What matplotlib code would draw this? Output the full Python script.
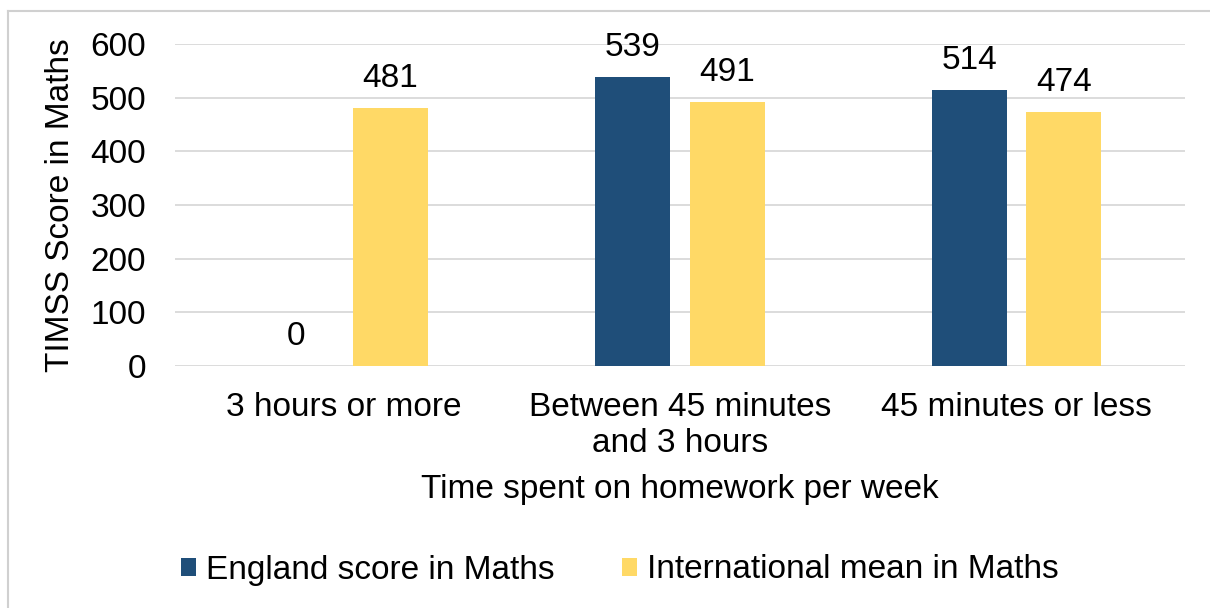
import matplotlib
matplotlib.use("Agg")
import matplotlib.pyplot as plt
import numpy as np
from matplotlib.lines import Line2D

categories = ["3 hours or more", "Between 45 minutes\nand 3 hours", "45 minutes or less"]
england = [0, 539, 514]
international = [481, 491, 474]
series_names = ["England score in Maths", "International mean in Maths"]
colors = ["#1F4E79", "#FFD966"]
yticks = [0, 100, 200, 300, 400, 500, 600]

plt.rcParams['font.family'] = ['Liberation Sans', 'DejaVu Sans']
FS = 24

fig = plt.figure(figsize=(12.10, 6.08), dpi=100)
ax = fig.add_axes([175/1210, 1-366/608, (1185-175)/1210, (366-44)/608])

x = np.arange(len(categories))
w = 0.223
off = 0.14
b1 = ax.bar(x - off, england, w, color=colors[0], label=series_names[0], zorder=3)
b2 = ax.bar(x + off, international, w, color=colors[1], label=series_names[1], zorder=3)
for bars in (b1, b2):
    for r in bars:
        ax.annotate(f"{int(r.get_height())}", (r.get_x() + r.get_width()/2, r.get_height()),
                    xytext=(0, 14), textcoords="offset pixels", ha="center", va="bottom",
                    fontsize=FS, color="#000000")

ax.set_xlim(-0.5, 2.5)
ax.set_ylim(0, 600)
ax.set_yticks(yticks)
ax.set_xticks(x)
ax.set_xticklabels(categories, fontsize=FS, linespacing=1.2)
ax.tick_params(axis='both', length=0, labelsize=FS, colors="#000000")
ax.tick_params(axis='y', pad=21)
ax.tick_params(axis='x', pad=19)
for s in ax.spines.values():
    s.set_visible(False)
ax.grid(axis='y', color="#D9D9D9", linewidth=1.3, zorder=0)
ax.set_axisbelow(True)
ax.set_xlabel("Time spent on homework per week", fontsize=FS, labelpad=11)
ax.set_ylabel("TIMSS Score in Maths", fontsize=FS, labelpad=10)

fig.legend(handles=[b1, b2], labels=series_names, loc="center", bbox_to_anchor=(620/1210, 1-570/608),
           ncol=2, frameon=False, fontsize=FS, handlelength=0.45, handleheight=0.45,
           handletextpad=0.3, columnspacing=2.0)

# figure border (top & left)
fig.add_artist(Line2D([8/1210, 8/1210], [0, 1-11/608], transform=fig.transFigure, color="#D0D0D0", lw=1.5))
fig.add_artist(Line2D([8/1210, 1], [1-11/608, 1-11/608], transform=fig.transFigure, color="#D0D0D0", lw=1.5))

fig.savefig("out.png", dpi=100, facecolor="white")
